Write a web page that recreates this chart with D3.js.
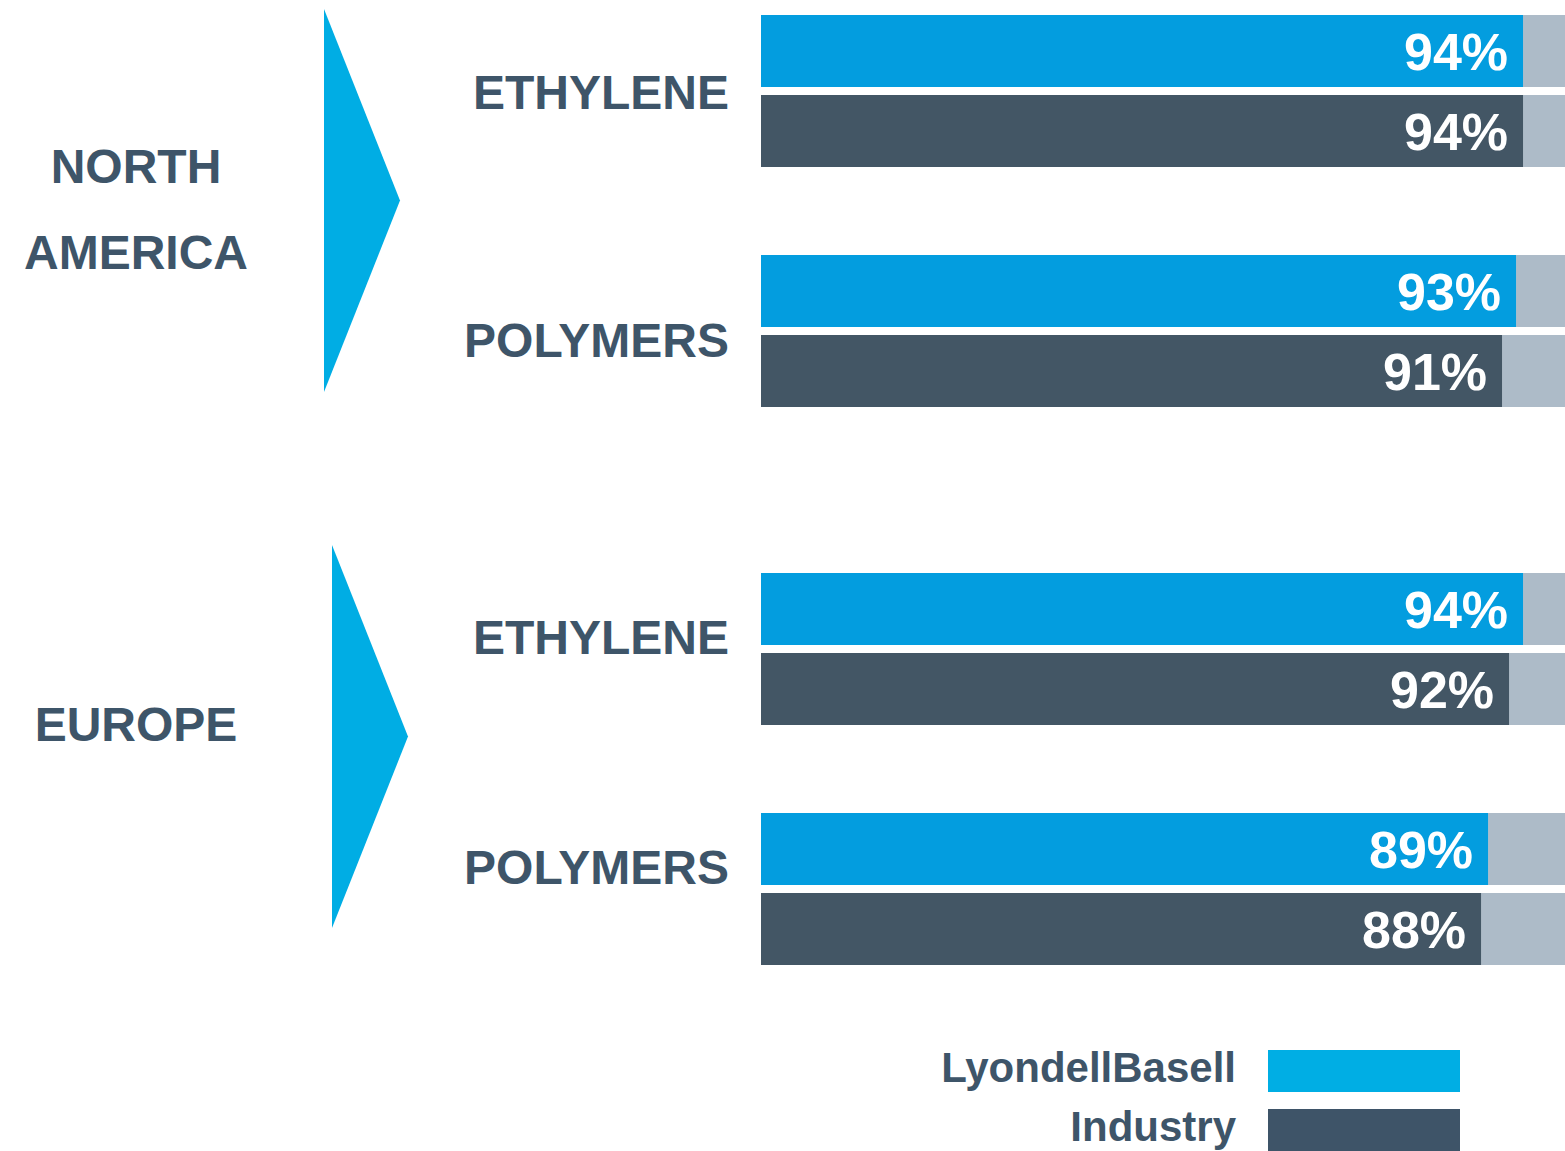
<!DOCTYPE html>
<html>
<head>
<meta charset="utf-8">
<script src="https://cdn.jsdelivr.net/npm/d3@7"></script>
<style>
  html, body { margin: 0; padding: 0; background: #ffffff; }
  svg { display: block; }
  text { font-family: "Liberation Sans", Arial, sans-serif; font-weight: bold; }
</style>
</head>
<body>
<svg id="chart" width="1565" height="1151"></svg>
<script>
// Operating rates by region and product
const regions = ["NORTH AMERICA", "EUROPE"];
const regionLines = [["NORTH", "AMERICA"], ["EUROPE"]];
const products = ["ETHYLENE", "POLYMERS"];
const series = ["LyondellBasell", "Industry"];
const lyondellBasellValues = [94, 93, 94, 89]; // NA eth, NA poly, EU eth, EU poly
const industryValues = [94, 91, 92, 88];

const colors = {
  LyondellBasell: "#039ddf",
  Industry: "#435665",
  remainder: "#adbbc8",
  text: "#3e5569",
  arrow: "#00ade4",
  legendBlue: "#00aee4",
  legendDark: "#3e5468"
};

const svg = d3.select("#chart");
const W = 1565;

// value axis: bars start at the left edge of the plot and run to 100%
const x = d3.scaleLinear().domain([-15, 100]).range([761, W]);

// vertical layout
const regionY = d3.scaleOrdinal().domain(regions).range([15, 573]);
const productY = d3.scaleOrdinal().domain(products).range([0, 240]);
const seriesY = d3.scaleBand().domain(series).range([0, 152]).paddingInner(0.1);

const rows = [];
regions.forEach((r, ri) => {
  products.forEach((p, pi) => {
    const idx = ri * products.length + pi;
    rows.push({ region: r, product: p, series: "LyondellBasell", value: lyondellBasellValues[idx] });
    rows.push({ region: r, product: p, series: "Industry", value: industryValues[idx] });
  });
});
const rowTop = d => regionY(d.region) + productY(d.product) + seriesY(d.series);
const barH = 72;

// grey remainder up to 100%
svg.append("g").selectAll("rect").data(rows).join("rect")
  .attr("x", d => x(d.value))
  .attr("y", rowTop)
  .attr("width", d => x(100) - x(d.value))
  .attr("height", barH)
  .attr("fill", colors.remainder);

// value bars
svg.append("g").selectAll("rect").data(rows).join("rect")
  .attr("x", x(-15))
  .attr("y", rowTop)
  .attr("width", d => x(d.value) - x(-15))
  .attr("height", barH)
  .attr("fill", d => colors[d.series]);

// value labels
svg.append("g").selectAll("text").data(rows).join("text")
  .attr("x", d => x(d.value) - 15)
  .attr("y", d => rowTop(d) + barH / 2 + 19)
  .attr("text-anchor", "end")
  .attr("fill", "#ffffff")
  .attr("font-size", 52)
  .text(d => d.value + "%");

// product labels
const productBaselines = [[94, 102], [81, 71]];
regions.forEach((r, ri) => {
  products.forEach((p, pi) => {
    svg.append("text")
      .attr("x", 729)
      .attr("y", regionY(r) + productY(p) + productBaselines[ri][pi])
      .attr("text-anchor", "end")
      .attr("fill", colors.text)
      .attr("font-size", 48)
      .text(p);
  });
});

// region arrows
const arrowLeft = [324, 332];
const arrowTop = [9, 545];
const arrowH = 383;
regions.forEach((r, ri) => {
  const lx = arrowLeft[ri], ty = arrowTop[ri];
  svg.append("path")
    .attr("d", d3.line()([[lx, ty], [lx + 76, ty + arrowH / 2], [lx, ty + arrowH]]) + "Z")
    .attr("fill", colors.arrow);
});

// region labels
const regionBaselines = [[183, 269], [741]];
regions.forEach((r, ri) => {
  regionLines[ri].forEach((line, li) => {
    svg.append("text")
      .attr("x", 136)
      .attr("y", regionBaselines[ri][li])
      .attr("text-anchor", "middle")
      .attr("fill", colors.text)
      .attr("font-size", 48)
      .text(line);
  });
});

// legend
const legendColors = [colors.legendBlue, colors.legendDark];
const legendTop = [1050, 1109];
const legend = svg.append("g");
series.forEach((s, i) => {
  legend.append("rect")
    .attr("x", 1268).attr("y", legendTop[i])
    .attr("width", 192).attr("height", 42)
    .attr("fill", legendColors[i]);
  legend.append("text")
    .attr("x", 1236).attr("y", legendTop[i] + 32)
    .attr("text-anchor", "end")
    .attr("fill", colors.text)
    .attr("font-size", 42)
    .text(s);
});
</script>
</body>
</html>
